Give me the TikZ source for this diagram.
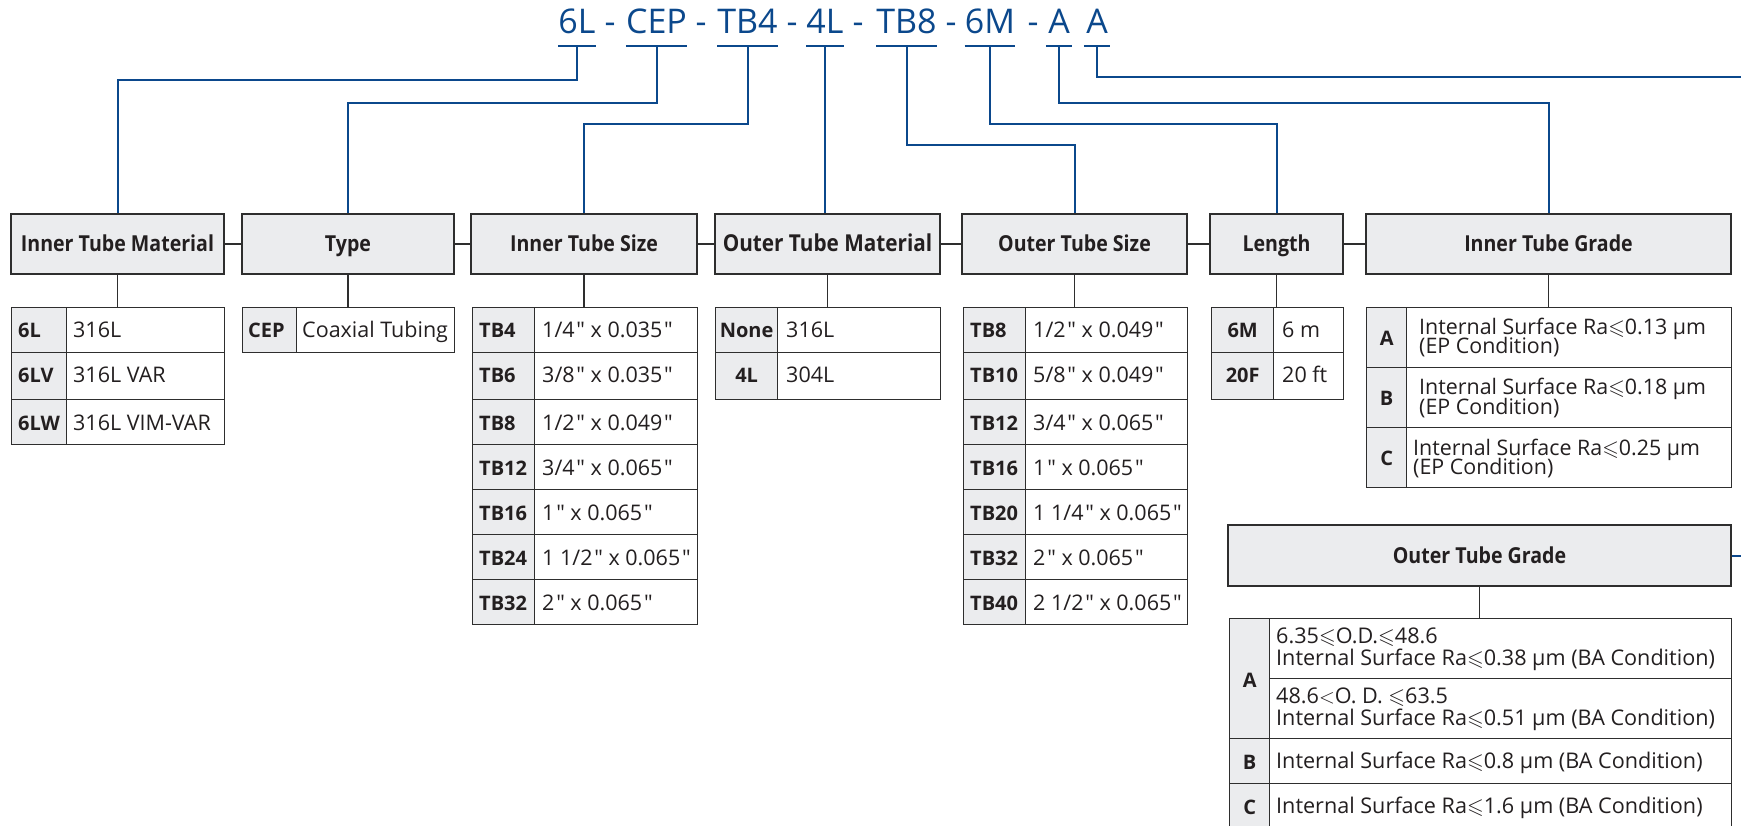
\documentclass[tikz,border=0pt]{standalone}
\usepackage{fontspec}
\usepackage{amssymb}
\setmainfont{Open Sans}
\setmonofont{Open Sans}
\newfontfamily\hdfont{Open Sans}[FakeStretch=0.89]
\usetikzlibrary{calc}
\definecolor{tblue}{HTML}{0B488C}
\definecolor{boxfill}{HTML}{EBECEE}
\definecolor{edgec}{HTML}{2E2E2E}
\definecolor{ink}{HTML}{231F20}
\newcommand\fs[1]{\fontsize{#1}{#1}\selectfont}
\newcommand\leqs{$\leqslant$}
\newcommand\inch{\kern1.8pt{\ttfamily\char"22}\relax}
\newcommand\tableL[7]{%
  \foreach \tp/\bt/\kk/\vv [count=\ii] in {#7}{%
    \node[kcell, minimum width={#3-#2}, minimum height={\bt-\tp}] (#1k\ii) at (#2,\tp) {};
    \node[vcell, minimum width={#4-#3}, minimum height={\bt-\tp}] (#1v\ii) at (#3,\tp) {};
    \node[ktext, anchor=base west] (#1kt\ii) at ($(#1k\ii.north west)+(#5,31)$) {\kk};
    \node[vtext] (#1vt\ii) at ($(#1v\ii.north west)+(#6,31)$) {\vv};
  }}
\newcommand\tableC[7]{%
  \foreach \tp/\bt/\kk/\vv [count=\ii] in {#7}{%
    \node[kcell, minimum width={#3-#2}, minimum height={\bt-\tp}] (#1k\ii) at (#2,\tp) {};
    \node[vcell, minimum width={#4-#3}, minimum height={\bt-\tp}] (#1v\ii) at (#3,\tp) {};
    \node[ktext, anchor=base] (#1kt\ii) at ($(#1k\ii.north)+(#5,31)$) {\kk};
    \node[vtext] (#1vt\ii) at ($(#1v\ii.north west)+(#6,31)$) {\vv};
  }}
\begin{document}
\begin{tikzpicture}[x=1pt,y=-1pt,
  bline/.style={draw=tblue, line width=2pt},
  gline/.style={draw=edgec, line width=1.3pt},
  code/.style={font=\fs{34}, text=tblue, inner sep=0pt, anchor=base},
  hbox/.style={draw=edgec, fill=boxfill, line width=1.3pt, inner sep=0pt,
    minimum height=60, text height=16pt, text depth=0pt, font=\hdfont\bfseries\fs{22}, text=ink},
  kcell/.style={draw=edgec, fill=boxfill, line width=1.3pt, inner sep=0pt, anchor=north west},
  vcell/.style={draw=edgec, fill=white, line width=1.3pt, inner sep=0pt, anchor=north west},
  ktext/.style={font=\bfseries\fs{20}, text=ink, inner sep=0pt},
  vtext/.style={font=\fs{21.5}, text=ink, inner sep=0pt, anchor=base west},
  gtext/.style={font=\fs{21.4}, text=ink, inner sep=0pt, anchor=base west},
  otext/.style={font=\fs{21.6}, text=ink, inner sep=0pt, anchor=base west},
]
\useasboundingbox (0,0) rectangle (1741,826);
\clip (0,0) rectangle (1741,826);

% ---------- code line ----------
\node[code, minimum width=32] (c1) at (577,34) {6L};
\node[code] (d1) at (610,34) {-};
\node[code, minimum width=55] (c2) at (656.5,34) {CEP};
\node[code] (d2) at (701,34) {-};
\node[code, minimum width=49] (c3) at (747.5,34) {TB4};
\node[code] (d3) at (792,34) {-};
\node[code, minimum width=36] (c4) at (825,34) {4L};
\node[code] (d4) at (858,34) {-};
\node[code, minimum width=57] (c5) at (906.5,34) {TB8};
\node[code] (d5) at (951,34) {-};
\node[code, minimum width=46] (c6) at (990,34) {6M};
\node[code] (d6) at (1033,34) {-};
\node[code, minimum width=26] (c7) at (1059,34) {A};
\node[code, minimum width=26] (c8) at (1097,34) {A};
\foreach \n in {1,...,8}{
  \draw[bline] ([yshift=-12pt]c\n.base west) -- ([yshift=-12pt]c\n.base east);
  \coordinate (t\n) at ([yshift=-12pt]c\n.base);
}

% ---------- header boxes ----------
\node[hbox, minimum width=213] (ITM) at (117.5,244) {Inner Tube Material};
\node[hbox, minimum width=212] (TYP) at (348,244) {Type};
\node[hbox, minimum width=226] (ITS) at (584,244) {Inner Tube Size};
\node[hbox, minimum width=225, font=\hdfont\bfseries\fs{23.3}] (OTM) at (827.5,244) {Outer Tube Material};
\node[hbox, minimum width=225] (OTS) at (1074.5,244) {Outer Tube Size};
\node[hbox, minimum width=133] (LEN) at (1276.5,244) {Length};
\node[hbox, minimum width=365] (ITG) at (1548.5,244) {Inner Tube Grade};
\node[hbox, minimum width=503, minimum height=61] (OTG) at (1479.5,555.5) {Outer Tube Grade};

\draw[gline] (ITM.east) -- (TYP.west);
\draw[gline] (TYP.east) -- (ITS.west);
\draw[gline] (ITS.east) -- (OTM.west);
\draw[gline] (OTM.east) -- (OTS.west);
\draw[gline] (OTS.east) -- (LEN.west);
\draw[gline] (LEN.east) -- (ITG.west);

% ---------- blue connectors ----------
\coordinate (farA) at (1745,77);
\coordinate (farB) at (1745,555.5);
\draw[bline] (t1) -- (t1 |- 0,80) -| (ITM.north);
\draw[bline] (t2) -- (t2 |- 0,103) -| (TYP.north);
\draw[bline] (t3) -- (t3 |- 0,124) -| (ITS.north);
\draw[bline] (t4) -- (t4 |- OTM.north);
\draw[bline] (t5) -- (t5 |- 0,145) -| (OTS.north);
\draw[bline] (t6) -- (t6 |- 0,124) -| (LEN.north);
\draw[bline] (t7) -- (t7 |- 0,103) -| (ITG.north);
\draw[bline] (t8) -- (t8 |- farA) -- (farA);
\draw[bline] (OTG.east) -- (farB);

% ---------- tables ----------
\tableL{itm}{11}{66}{224}{7}{7}{307/352/6L/316L, 352/399/6LV/316L VAR, 399/444/6LW/316L VIM-VAR}
\tableL{typ}{242}{296}{454}{6}{6}{307/352/CEP/Coaxial Tubing}
\tableL{its}{472}{534}{697}{7}{8}{307/352/TB4/{1/4\inch{} x 0.035\inch}, 352/399/TB6/{3/8\inch{} x 0.035\inch}, 399/444/TB8/{1/2\inch{} x 0.049\inch}, 444/489/TB12/{3/4\inch{} x 0.065\inch}, 489/534/TB16/{1\inch{} x 0.065\inch}, 534/579/TB24/{1 1/2\inch{} x 0.065\inch}, 579/624/TB32/{2\inch{} x 0.065\inch}}
\tableC{otm}{715}{777}{940}{0}{9}{307/352/None/316L, 352/399/4L/304L}
\tableL{ots}{963}{1025}{1187}{7}{8}{307/352/TB8/{1/2\inch{} x 0.049\inch}, 352/399/TB10/{5/8\inch{} x 0.049\inch}, 399/444/TB12/{3/4\inch{} x 0.065\inch}, 444/489/TB16/{1\inch{} x 0.065\inch}, 489/534/TB20/{1 1/4\inch{} x 0.065\inch}, 534/579/TB32/{2\inch{} x 0.065\inch}, 579/624/TB40/{2 1/2\inch{} x 0.065\inch}}
\tableC{len}{1211}{1273}{1343}{0}{9}{307/352/6M/6 m, 352/399/20F/20 ft}

% inner tube grade table
\foreach \tp/\bt/\kk/\la/\pd [count=\ii] in {307/367/A/0.13/13, 367/427/B/0.18/13, 427/487/C/0.25/7}{
  \node[kcell, minimum width=40, minimum height={\bt-\tp}] (itgk\ii) at (1366,\tp) {};
  \node[vcell, minimum width=325, minimum height={\bt-\tp}] (itgv\ii) at (1406,\tp) {};
  \node[ktext, anchor=base] (itgkt\ii) at ($(itgk\ii.center)+(0,8)$) {\kk};
  \node[gtext] (itga\ii) at ($(itgv\ii.north west)+(\pd,28)$) {Internal Surface Ra\leqs\la{} µm};
  \node[gtext] (itgb\ii) at ($(itgv\ii.north west)+(\pd,47)$) {(EP Condition)};
}

% outer tube grade table
\node[kcell, minimum width=40, minimum height=120] (otgkA) at (1229,618) {};
\node[vcell, minimum width=462, minimum height=60] (otgv1) at (1269,618) {};
\node[vcell, minimum width=462, minimum height=60] (otgv2) at (1269,678) {};
\node[kcell, minimum width=40, minimum height=45] (otgkB) at (1229,738) {};
\node[vcell, minimum width=462, minimum height=45] (otgv3) at (1269,738) {};
\node[kcell, minimum width=40, minimum height=45] (otgkC) at (1229,783) {};
\node[vcell, minimum width=462, minimum height=45] (otgv4) at (1269,783) {};
\node[ktext, anchor=base] (otgtA) at ($(otgkA.center)+(0,9)$) {A};
\node[ktext, anchor=base] (otgtB) at ($(otgkB.center)+(0,8)$) {B};
\node[ktext, anchor=base] (otgtC) at ($(otgkC.center)+(0,8)$) {C};
\node[otext] (o1a) at ($(otgv1.north west)+(7,25)$) {6.35\leqs O.D.\leqs 48.6};
\node[otext] (o1b) at ($(otgv1.north west)+(7,47)$) {Internal Surface Ra\leqs0.38 µm (BA Condition)};
\node[otext] (o2a) at ($(otgv2.north west)+(7,25)$) {48.6$<$O. D. \leqs63.5};
\node[otext] (o2b) at ($(otgv2.north west)+(7,47)$) {Internal Surface Ra\leqs0.51 µm (BA Condition)};
\node[otext] (o3) at ($(otgv3.north west)+(7,30)$) {Internal Surface Ra\leqs0.8 µm (BA Condition)};
\node[otext] (o4) at ($(otgv4.north west)+(7,30)$) {Internal Surface Ra\leqs1.6 µm (BA Condition)};

% stems
\draw[gline] (ITM.south) -- (ITM.south |- itmk1.north);
\draw[gline] (TYP.south) -- (TYP.south |- typk1.north);
\draw[gline] (ITS.south) -- (ITS.south |- itsk1.north);
\draw[gline] (OTM.south) -- (OTM.south |- otmk1.north);
\draw[gline] (OTS.south) -- (OTS.south |- otsk1.north);
\draw[gline] (LEN.south) -- (LEN.south |- lenk1.north);
\draw[gline] (ITG.south) -- (ITG.south |- itgk1.north);
\draw[gline] (OTG.south) -- (OTG.south |- otgkA.north);
\end{tikzpicture}
\end{document}
